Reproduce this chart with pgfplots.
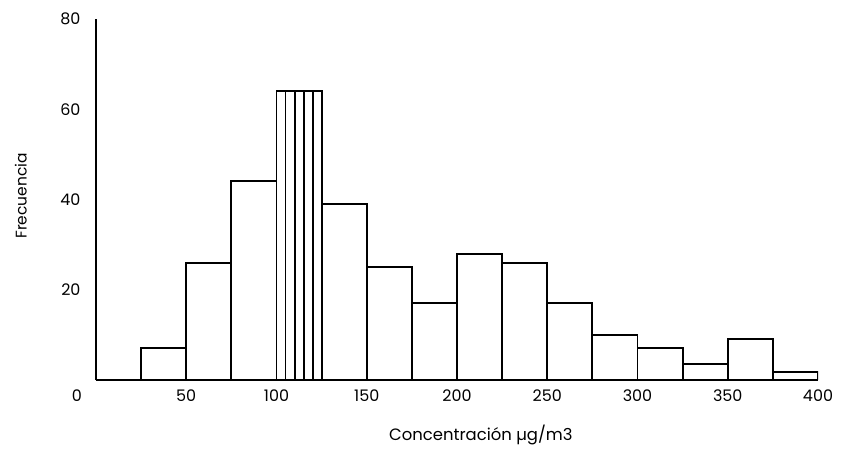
\documentclass[border=0pt]{standalone}
\usepackage{fontspec}
\setmainfont{Poppins}
\usepackage{pgfplots}
\pgfplotsset{compat=1.18}
\begin{document}
\begin{tikzpicture}
\begin{axis}[
  scale only axis, width=722bp, height=361bp,
  xmin=0, xmax=400, ymin=0, ymax=80,
  axis x line=bottom, axis y line=left,
  axis line style={-, line width=2bp, black},
  xtick={50,100,...,400}, ytick={20,40,60,80},
  extra x ticks={0},
  extra x tick style={xticklabel style={xshift=-19bp}},
  major tick length=0pt,
  /pgf/number format/assume math mode=true,
  tick label style={font=\fontsize{16}{16}\selectfont},
  xticklabel style={yshift=-6bp},
  yticklabel style={xshift=-12bp},
  xlabel={Concentración µg/m3},
  ylabel={Frecuencia},
  xlabel style={font=\fontsize{16.5}{16.5}\selectfont, at={(axis description cs:0.533,-0.152)}, anchor=center},
  ylabel style={font=\fontsize{15.5}{15.5}\selectfont, at={(axis description cs:-0.104,0.51)}, anchor=center, rotate=0},
]
\addplot[ybar interval, draw=black, line width=1.9bp, fill=none] coordinates {
  (25,7) (50,26) (75,44)
  (100,64) (105,64) (110,64) (115,64) (120,64)
  (125,39) (150,25) (175,17) (200,28) (225,26) (250,17)
  (275,10) (300,7) (325,3.5) (350,9) (375,1.7) (400,0)
};
\path (rel axis cs:0,0) ++(-96bp,-72bp) coordinate (bl);
\path (rel axis cs:1,1) ++(30bp,19bp) coordinate (tr);
\end{axis}
\path (bl) rectangle (tr);
\end{tikzpicture}
\end{document}
